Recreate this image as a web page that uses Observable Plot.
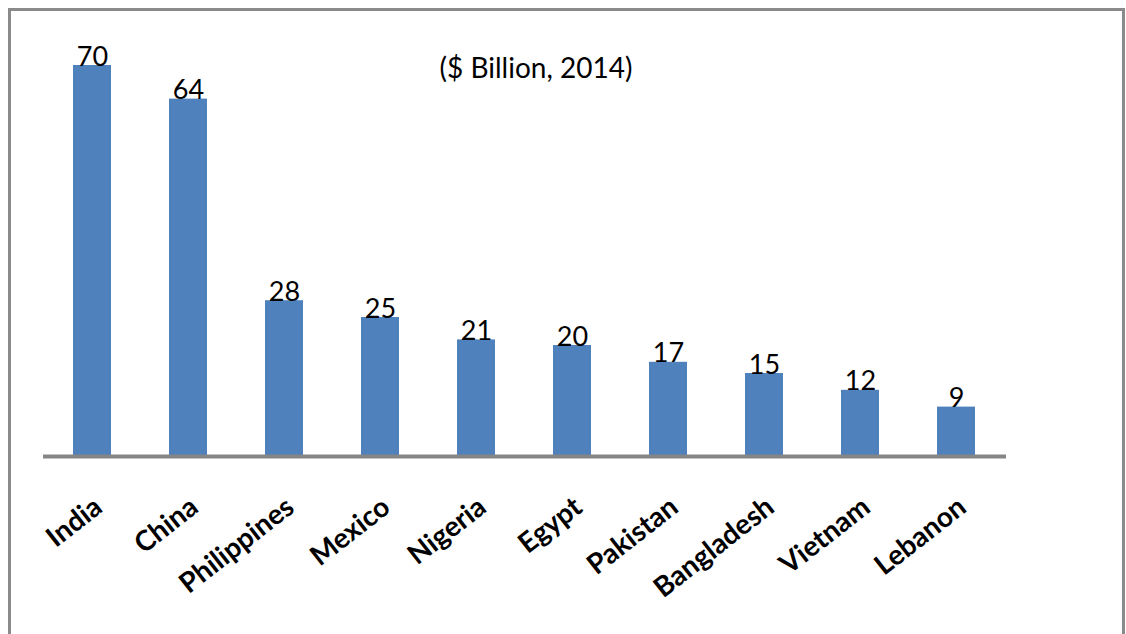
<!DOCTYPE html>
<html>
<head>
<meta charset="utf-8">
<script src="https://cdn.jsdelivr.net/npm/d3@7"></script>
<script src="https://cdn.jsdelivr.net/npm/@observablehq/plot@0.6"></script>
<style>
  html, body { margin: 0; padding: 0; background: #fff; }
  body { width: 1126px; height: 634px; position: relative; overflow: hidden; font-family: Lato, "Open Sans", sans-serif; }
  #frame { position: absolute; left: 8px; top: 8px; width: 1111px; height: 700px; border: 3px solid #8a8a8a; box-sizing: content-box; }
  #chart { position: absolute; left: 0; top: 0; }
</style>
</head>
<body>
<div id="frame"></div>
<div id="chart"></div>
<script>
const countries = ["India", "China", "Philippines", "Mexico", "Nigeria", "Egypt", "Pakistan", "Bangladesh", "Vietnam", "Lebanon"];
const remittances = [70, 64, 28, 25, 21, 20, 17, 15, 12, 9];
const subtitle = "($ Billion, 2014)";

const data = countries.map((c, i) => ({country: c, value: remittances[i]}));

const chart = Plot.plot({
  width: 1126,
  height: 634,
  marginLeft: 43,
  marginRight: 120,
  marginTop: 65,
  marginBottom: 177,
  style: {fontFamily: "Lato, 'Open Sans', sans-serif", background: "transparent", overflow: "visible"},
  x: {domain: countries, paddingInner: 0.6, paddingOuter: 0.3, label: null},
  y: {domain: [0, 70], axis: null},
  marks: [
    Plot.barY(data, {x: "country", y: "value", fill: "#4f81bd"}),
    Plot.ruleY([0], {stroke: "#868686", strokeWidth: 4, dy: -1}),
    Plot.text(data, {x: "country", y: "value", text: d => String(d.value), lineAnchor: "bottom", dy: 0, fontSize: 27, fill: "#000"}),
    Plot.text([subtitle], {frameAnchor: "top", dx: 11, dy: 12, lineAnchor: "bottom", fontSize: 28, fill: "#000"}),
    Plot.axisX({tickSize: 0, tickPadding: 46, tickRotate: -38, dx: 6, fontSize: 28, fontWeight: "bold", fill: "#000", label: null})
  ]
});
document.getElementById("chart").appendChild(chart);
</script>
</body>
</html>
